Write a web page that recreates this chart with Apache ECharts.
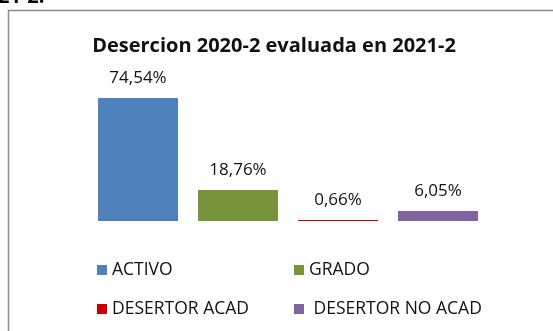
<!DOCTYPE html>
<html>
<head>
<meta charset="utf-8">
<script src="https://cdn.jsdelivr.net/npm/echarts@6/dist/echarts.min.js"></script>
<style>
  html, body { margin: 0; padding: 0; background: #ffffff; }
  #chart { width: 553px; height: 331px; }
</style>
</head>
<body>
<div id="chart"></div>
<script>
// Student status shares for the 2020-2 cohort, evaluated in 2021-2
const chartTitle = 'Desercion 2020-2 evaluada en 2021-2';
const categories = ['ACTIVO', 'GRADO', 'DESERTOR ACAD', 'DESERTOR NO ACAD'];
const shares = [74.54, 18.76, 0.66, 6.05];
const barColors = ['#4F81BD', '#77933C', '#CC0000', '#8064A2'];

const FONT = '"Open Sans", "Liberation Sans", sans-serif';

const fmtPct = v => v.toFixed(2).replace('.', ',') + '%';

// One series per category so each gets its own legend entry; all share
// the same slot inside their category through barGap -100%.
const series = categories.map((name, i) => ({
  name: name,
  type: 'bar',
  barWidth: 80,
  barGap: '-100%',
  itemStyle: { color: barColors[i] },
  label: {
    show: true,
    position: 'top',
    distance: 11,
    fontFamily: FONT,
    fontSize: 17,
    color: '#111',
    formatter: p => fmtPct(p.value)
  },
  data: categories.map((_, j) => (j === i ? shares[i] : '-'))
}));

// Legend laid out as a 2x2 block
const legendSpots = [
  { left: 97, top: 261 },
  { left: 294, top: 261 },
  { left: 97, top: 300 },
  { left: 294, top: 300 }
];
const legends = categories.map((name, i) => ({
  data: [name],
  left: legendSpots[i].left,
  top: legendSpots[i].top,
  padding: 0,
  itemWidth: 10,
  itemHeight: 10,
  icon: 'rect',
  selectedMode: false,
  formatter: n => (i === 3 ? ' ' + n : n),
  textStyle: { fontFamily: FONT, fontSize: 17.5, color: '#111' }
}));

const chart = echarts.init(document.getElementById('chart'), null, { renderer: 'canvas' });
chart.setOption({
  animation: false,
  backgroundColor: '#ffffff',
  title: {
    text: chartTitle,
    left: 274,
    textAlign: 'center',
    top: 36,
    padding: 0,
    textStyle: { fontFamily: FONT, fontSize: 20, fontWeight: 'bold', color: '#111' }
  },
  legend: legends,
  grid: { left: 88, right: 65, top: 89, bottom: 110 },
  xAxis: {
    type: 'category',
    data: categories,
    axisLine: { show: false },
    axisTick: { show: false },
    axisLabel: { show: false }
  },
  yAxis: {
    type: 'value',
    min: 0,
    max: 80,
    show: false,
    splitLine: { show: false }
  },
  graphic: [
    {
      type: 'rect',
      shape: { x: 8.5, y: 10.5, width: 700, height: 500 },
      style: { fill: 'none', stroke: '#8c8c8c', lineWidth: 1.5 },
      silent: true,
      z: 100
    },
    {
      // heading text from the page above, only its lower edge shows
      type: 'text',
      x: -2,
      y: 7,
      style: {
        text: '21-2.',
        font: 'bold 20px ' + FONT,
        fill: '#000',
        verticalAlign: 'bottom'
      },
      silent: true
    }
  ],
  series: series
});
</script>
</body>
</html>
